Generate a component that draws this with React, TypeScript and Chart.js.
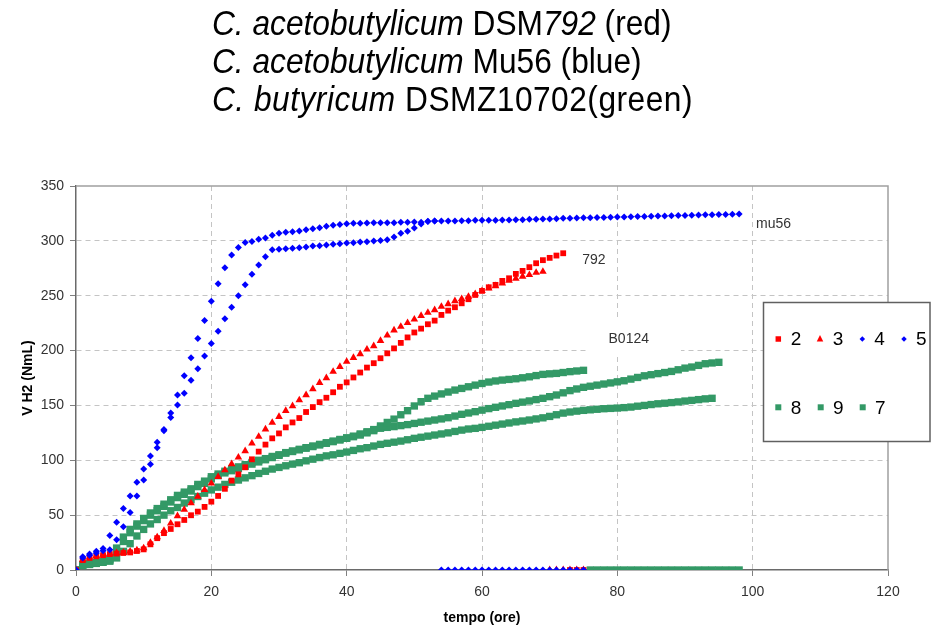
import React, { useEffect, useRef } from "react";
import { Chart, registerables } from "chart.js";

Chart.register(...registerables);

// ---------- data ----------
const HOURS = [
  0, 1, 2, 3, 4, 5, 6, 7, 8, 9, 10, 11, 12, 13, 14, 15, 16, 17, 18, 19,
  20, 21, 22, 23, 24, 25, 26, 27, 28, 29, 30, 31, 32, 33, 34, 35, 36, 37, 38, 39,
  40, 41, 42, 43, 44, 45, 46, 47, 48, 49, 50, 51, 52, 53, 54, 55, 56, 57, 58, 59,
  60, 61, 62, 63, 64, 65, 66, 67, 68, 69, 70, 71, 72, 73, 74, 75, 76, 77, 78, 79,
  80, 81, 82, 83, 84, 85, 86, 87, 88, 89, 90, 91, 92, 93, 94, 95, 96, 97, 98,
];

// DSM792 (red)
const SERIES_2 = [
  0, 9, 11, 12.5, 13.5, 14.5, 15, 15.5, 16, 17.3,
  18.8, 23.4, 29, 33.6, 37.4, 41.7, 45.6, 49.9, 53.2, 57.5,
  62.3, 67.5, 74, 81.5, 87.2, 93.6, 100.9, 107.9, 114.3, 120,
  124.5, 130, 134.5, 138.5, 144, 148.5, 153, 157, 162, 167,
  171, 175.5, 180, 184.5, 188.5, 193, 197.5, 202, 207, 212,
  216.5, 220, 224, 227.3, 232.5, 236.4, 239.5, 243.1, 246.8, 250.7,
  254.4, 257.7, 259.9, 263.5, 265.9, 269.9, 272.6, 276, 279.6, 282.4,
  284.5, 286.6, 288.7, 0, 0, 0,
];
const SERIES_3 = [
  0, 9.5, 11.5, 13, 14, 15, 15.5, 16, 17, 18,
  20, 25, 30, 35.8, 42.5, 49.2, 55, 61, 67, 73,
  79, 85, 91, 96.6, 102.7, 108.5, 115.5, 121.6, 128.3, 134.3,
  139.7, 145.2, 149.5, 154.9, 159.5, 165, 170.7, 175, 180.8, 185.3,
  189.9, 193.5, 196.9, 201.1, 204.2, 209, 213.9, 218.5, 221.8, 225.2,
  228.5, 231.8, 234.6, 237, 240.1, 242.5, 245.2, 247.1, 249.2, 251.6,
  254.4, 256.8, 258.9, 261.4, 263.8, 265.6, 267.5, 269, 271.1, 272,
  0, 0, 0, 0, 0, 0,
];
// Mu56 (blue)
const SERIES_4 = [
  0, 12, 14.5, 17, 19.5, 31.5, 43.5, 56, 67.5, 80,
  92, 104, 116.5, 128, 143, 159.5, 177, 193.5, 211, 227.5,
  245, 261, 275.5, 287, 294, 298.5, 299.5, 301.5, 302.5, 305,
  306.9, 307.8, 308.4, 309, 310.2, 311.1, 312, 313.3, 314.2, 314.8,
  315.7, 316, 316, 316.3, 316.6, 316.6, 316.6, 316.6, 316.9, 316.9,
  317.2, 316.9, 317.6, 318,
  0, 0, 0, 0, 0, 0, 0, 0, 0, 0, 0, 0, 0, 0, 0, 0, 0, 0, 0, 0, 0, 0,
];
const SERIES_5 = [
  0, 11, 13.5, 15.5, 17.5, 18.5, 27.5, 39.5, 52.5, 67.5,
  82, 96.3, 111.5, 127, 139, 150.5, 161, 173, 183.5, 195,
  206.5, 217.5, 229, 239.5, 250, 260, 269.5, 278, 285.5, 292,
  292.3, 292.9, 293.2, 293.8, 294.4, 295.3, 295.6, 296.2, 296.8, 297.4,
  298, 298.3, 298.9, 299.2, 299.8, 300.4, 301, 303.5, 306.9, 308.7,
  311.7, 315.4, 317.8, 318.2, 318.2, 318.2, 318.2, 318.3, 318.4, 318.7,
  318.7, 318.7, 318.8, 319, 319, 319.3, 319.3, 319.6, 319.6, 319.9,
  320, 320.2, 320.5, 320.6, 320.8, 321, 321.1, 321.2, 321.4, 321.5,
  321.7, 321.8, 322, 322.1, 322.3, 322.4, 322.6, 322.7, 322.9, 323,
  323.2, 323.3, 323.5, 323.7, 323.8, 324, 324.1, 324.3, 324.5,
];
// DSMZ10702 (green)
const SERIES_8 = [
  0, 5, 6, 7, 8, 10, 20, 30, 37, 42,
  47, 52, 56, 60, 64, 68, 71, 74, 78, 81,
  85, 87.5, 90, 92, 94, 96, 98, 100, 101.5, 103.5,
  105, 107, 108.5, 110, 111.5, 113, 114.5, 116, 117.5, 119,
  120.5, 122, 124, 126, 128, 131.3, 134.5, 137.5, 141.5, 145.2,
  149.5, 153.4, 156.5, 158.5, 160.5, 162.2, 164, 165.5, 167, 168.5,
  170, 171.3, 172.3, 173.1, 173.7, 174.3, 175.2, 176.1, 177.2, 178.3,
  178.8, 179.2, 180, 180.8, 181.4, 182,
  0, 0, 0, 0, 0, 0, 0, 0, 0, 0, 0, 0, 0, 0, 0, 0, 0, 0, 0, 0, 0, 0, 0,
];
const SERIES_9 = [
  0, 4.5, 5.5, 6.5, 7.5, 9, 16, 26, 34, 40,
  45, 50, 54, 58, 62, 66, 69, 72, 76, 79,
  83, 86, 88.5, 90.5, 92.5, 94.5, 96.5, 98.5, 100.5, 102.5,
  104.5, 106.5, 108, 109.5, 111, 112.5, 114, 115.5, 117, 118.5,
  120, 121.5, 123, 125, 127, 129.2, 130, 130.7, 131.6, 132.5,
  133.6, 134.7, 135.7, 136.7, 137.7, 138.8, 140.3, 141.9, 143.1, 144.3,
  145.7, 147.1, 148.3, 149.5, 150.7, 151.9, 153, 154.1, 155.3, 156.5,
  158, 159.5, 161.5, 163.5, 165, 166.5, 167.5, 168.5, 169.5, 170.5,
  171.5, 172.5, 174, 175.5, 177, 178, 179, 180, 181, 182.5,
  184, 185, 186.5, 188, 188.7, 189.3,
];
const SERIES_7 = [
  0, 4, 5, 6, 7, 8, 11, 17, 24, 31,
  37, 42, 46, 50, 54, 57, 61, 64, 67, 70,
  73, 75.5, 78, 80, 82, 84, 86, 88, 90, 92,
  93.5, 95, 96.5, 97.8, 99.5, 101, 102.5, 104, 105, 106.3,
  107.5, 109, 110.5, 111.5, 113, 114.5, 115.5, 116.5, 117.5, 118.7,
  120, 121, 122, 123, 124, 125, 126.3, 127.5, 128.5, 129.1,
  130, 131, 132, 133, 134, 135, 135.8, 136.7, 137.7, 138.7,
  140, 141.5, 143, 144, 144.8, 145.5, 146, 146.5, 147, 147.3,
  147.6, 148, 148.5, 149.3, 150, 150.8, 151.5, 152, 152.6, 153.2,
  154, 154.6, 155.3, 156, 156.5,
];

const SERIES_LABELS = ["2", "3", "4", "5", "8", "9", "7"];
const X_TICKS = [0, 20, 40, 60, 80, 100, 120];
const Y_TICKS = [0, 50, 100, 150, 200, 250, 300, 350];
const X_TITLE = "tempo (ore)";
const Y_TITLE = "V H2 (NmL)";
const NOTE_TEXTS = ["mu56", "792", "B0124"];

// ---------- styles / layout ----------
const FONT = '"Liberation Sans", Arial, Helvetica, sans-serif';
const RED = "#ff0000";
const BLUE = "#0000ff";
const GREEN = "#339966";

const STYLE: Record<string, { color: string; style: string; radius: number; order: number }> = {
  "2": { color: RED, style: "rect", radius: 4.1, order: 1 },
  "3": { color: RED, style: "triangle", radius: 4.4, order: 1 },
  "4": { color: BLUE, style: "rectRot", radius: 3.5, order: 0 },
  "5": { color: BLUE, style: "rectRot", radius: 3.5, order: 0 },
  "8": { color: GREEN, style: "rect", radius: 5.2, order: 2 },
  "9": { color: GREEN, style: "rect", radius: 5.2, order: 2 },
  "7": { color: GREEN, style: "rect", radius: 5.2, order: 2 },
};

const SERIES_VALUES: Record<string, number[]> = {
  "2": SERIES_2,
  "3": SERIES_3,
  "4": SERIES_4,
  "5": SERIES_5,
  "8": SERIES_8,
  "9": SERIES_9,
  "7": SERIES_7,
};

// note placement in data units (layout only)
const NOTE_POS = [
  { x: 100.5, y: 311.5 },
  { x: 74.8, y: 278.6 },
  { x: 78.7, y: 206.6 },
];

function drawMarker(ctx: CanvasRenderingContext2D, style: string, x: number, y: number, s: number) {
  ctx.beginPath();
  if (style === "rect") {
    ctx.rect(x - s / 2, y - s / 2, s, s);
  } else if (style === "triangle") {
    ctx.moveTo(x, y - s * 0.6);
    ctx.lineTo(x + s / 2, y + s * 0.4);
    ctx.lineTo(x - s / 2, y + s * 0.4);
    ctx.closePath();
  } else {
    ctx.moveTo(x, y - s / 2);
    ctx.lineTo(x + s / 2, y);
    ctx.lineTo(x, y + s / 2);
    ctx.lineTo(x - s / 2, y);
    ctx.closePath();
  }
  ctx.fill();
}

const decorPlugin = {
  id: "decor",
  beforeDatasetsDraw(chart: any) {
    const { ctx, chartArea, scales } = chart;
    ctx.save();
    // plot frame (top & right)
    ctx.strokeStyle = "#a0a0a0";
    ctx.lineWidth = 1.5;
    ctx.beginPath();
    ctx.moveTo(chartArea.left, chartArea.top);
    ctx.lineTo(chartArea.right, chartArea.top);
    ctx.lineTo(chartArea.right, chartArea.bottom);
    ctx.stroke();
    // white box behind B0124
    const x0 = scales.x.getPixelForValue(75.8);
    const x1 = scales.x.getPixelForValue(89.4);
    const y0 = scales.y.getPixelForValue(229.7);
    const y1 = scales.y.getPixelForValue(196);
    ctx.fillStyle = "#ffffff";
    ctx.fillRect(x0, y0, x1 - x0, y1 - y0);
    ctx.restore();
  },
  afterDatasetsDraw(chart: any) {
    const { ctx, scales } = chart;
    ctx.save();
    ctx.fillStyle = "#333333";
    ctx.font = `14px ${FONT}`;
    ctx.textAlign = "left";
    ctx.textBaseline = "alphabetic";
    NOTE_TEXTS.forEach((t, i) => {
      ctx.fillText(t, scales.x.getPixelForValue(NOTE_POS[i].x), scales.y.getPixelForValue(NOTE_POS[i].y));
    });
    ctx.restore();
  },
  afterDraw(chart: any) {
    const { ctx } = chart;
    ctx.save();
    // legend box
    ctx.fillStyle = "#ffffff";
    ctx.fillRect(763.5, 302.5, 166.5, 139);
    ctx.strokeStyle = "#606060";
    ctx.lineWidth = 1.5;
    ctx.strokeRect(763.5, 302.5, 166.5, 139);
    const slots = [
      { mx: 778.3, tx: 790.7, my: 339, ty: 345 },
      { mx: 820, tx: 832.7, my: 339, ty: 345 },
      { mx: 862.3, tx: 874.3, my: 339, ty: 345 },
      { mx: 904, tx: 916, my: 339, ty: 345 },
      { mx: 778.3, tx: 790.7, my: 407.3, ty: 414 },
      { mx: 820.7, tx: 833, my: 407.3, ty: 414 },
      { mx: 862.7, tx: 875, my: 407.3, ty: 414 },
    ];
    ctx.font = `19px ${FONT}`;
    ctx.textAlign = "left";
    ctx.textBaseline = "alphabetic";
    SERIES_LABELS.forEach((lab, i) => {
      const st = STYLE[lab];
      const sl = slots[i];
      ctx.fillStyle = st.color;
      const size = st.style === "triangle" ? 6.5 : st.style === "rectRot" ? 5.5 : st.color === GREEN ? 6 : 5.5;
      drawMarker(ctx, st.style, sl.mx, sl.my, size);
      ctx.fillStyle = "#000000";
      ctx.fillText(lab, sl.tx, sl.ty);
    });
    ctx.restore();
  },
};

export default function App() {
  const ref = useRef<HTMLCanvasElement | null>(null);

  useEffect(() => {
    if (!ref.current) return;
    const datasets = SERIES_LABELS.map((lab) => {
      const st = STYLE[lab];
      return {
        label: lab,
        data: SERIES_VALUES[lab].map((v, i) => ({ x: HOURS[i], y: v })),
        showLine: false,
        pointStyle: st.style,
        pointRadius: st.radius,
        pointHoverRadius: st.radius,
        pointBackgroundColor: st.color,
        pointBorderColor: st.color,
        pointBorderWidth: 0,
        backgroundColor: st.color,
        borderColor: st.color,
        order: st.order,
      };
    });

    const gridColor = (c: any, hide: number[]) =>
      c.tick && hide.includes(c.tick.value) ? "rgba(0,0,0,0)" : "#c4c4c4";

    const chart = new Chart(ref.current, {
      type: "scatter",
      data: { datasets } as any,
      options: {
        responsive: false,
        animation: false,
        devicePixelRatio: 1,
        layout: { padding: { left: 0, right: 52, top: 186, bottom: 0 } },
        plugins: { legend: { display: false }, tooltip: { enabled: false }, title: { display: false } },
        scales: {
          x: {
            type: "linear",
            min: X_TICKS[0],
            max: X_TICKS[X_TICKS.length - 1],
            afterBuildTicks: (s: any) => {
              s.ticks = X_TICKS.map((v) => ({ value: v }));
            },
            afterFit: (s: any) => {
              s.height = 60;
            },
            ticks: { color: "#333333", font: { family: FONT, size: 14 }, padding: 8, maxRotation: 0 },
            grid: {
              color: (c: any) => gridColor(c, [0, 120]),
              tickColor: "#808080",
              tickLength: 6,
              lineWidth: 1,
            },
            border: { display: true, color: "#6a6a6a", width: 1.5, dash: [5, 4] },
            title: {
              display: true,
              text: X_TITLE,
              color: "#000000",
              font: { family: FONT, size: 14, weight: "bold" },
              padding: { top: 0, bottom: 3.6 },
            },
          },
          y: {
            type: "linear",
            min: Y_TICKS[0],
            max: Y_TICKS[Y_TICKS.length - 1],
            afterBuildTicks: (s: any) => {
              s.ticks = Y_TICKS.map((v) => ({ value: v }));
            },
            afterFit: (s: any) => {
              s.width = 76;
            },
            ticks: { color: "#333333", font: { family: FONT, size: 14 }, padding: 6 },
            grid: {
              color: (c: any) => gridColor(c, [0, 350]),
              tickColor: "#808080",
              tickLength: 6,
              lineWidth: 1,
            },
            border: { display: true, color: "#6a6a6a", width: 1.5, dash: [5, 4] },
            title: {
              display: true,
              text: Y_TITLE,
              color: "#000000",
              font: { family: FONT, size: 14, weight: "bold" },
              padding: { top: 19.5, bottom: 0 },
            },
          },
        },
      },
      plugins: [decorPlugin],
    } as any);
    return () => chart.destroy();
  }, []);

  const titleStyle: React.CSSProperties = {
    position: "absolute",
    left: 212,
    top: 4,
    fontFamily: FONT,
    fontSize: 35,
    lineHeight: "38px",
    color: "#000",
    whiteSpace: "nowrap",
    transform: "scaleX(0.905)",
    transformOrigin: "left top",
  };

  return (
    <div style={{ position: "fixed", left: 0, top: 0, width: 940, height: 630, background: "#fff", overflow: "hidden" }}>
      <canvas ref={ref} width={940} height={630} style={{ position: "absolute", left: 0, top: 0, width: 940, height: 630 }} />
      <div style={titleStyle}>
        <div>
          <i>C. acetobutylicum</i> DSM<i>792</i> (red)
        </div>
        <div>
          <i>C. acetobutylicum</i> Mu56 (blue)
        </div>
        <div style={{ letterSpacing: "0.55px" }}>
          <i>C. butyricum</i> DSMZ10702(green)
        </div>
      </div>
    </div>
  );
}
